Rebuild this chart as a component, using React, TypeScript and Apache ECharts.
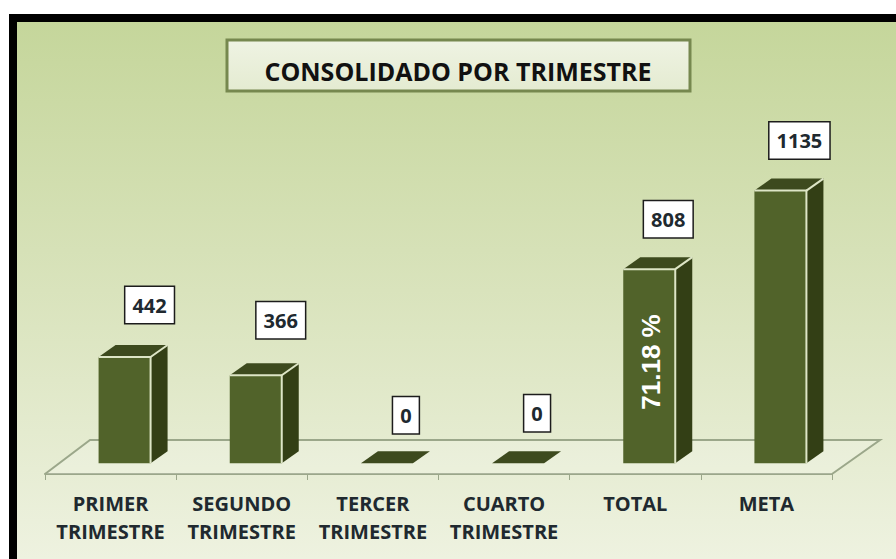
import React, { useEffect, useRef } from "react";
import * as echarts from "echarts";

const categories = [
  "PRIMER\nTRIMESTRE",
  "SEGUNDO\nTRIMESTRE",
  "TERCER\nTRIMESTRE",
  "CUARTO\nTRIMESTRE",
  "TOTAL",
  "META",
];
const values = [442, 366, 0, 0, 808, 1135];
const barNotes = ["", "", "", "", "71.18 %", ""];
const titleText = "CONSOLIDADO POR TRIMESTRE";

// Hand placement of the value boxes relative to each bar, as in the original.
const boxShiftX = [25, 25, 19, 19, 19, 19];
const boxGapY = [32, 35, 28, 30, 30, 30];

const FRONT = "#51632a";
const TOP = "#3d4a1e";
const SIDE = "#333f15";
const EDGE = "#dde5c6";
const AXIS = "#9ba78a";
const LABEL = "#20292f";
const BAR_W = 52;
const BAR_SHIFT = 14;
const DX = 17;
const DY = 12;

function renderBar(params: any, api: any) {
  const i = api.value(0);
  const v = api.value(1);
  const base = api.coord([i, 0]);
  const top = api.coord([i, v]);
  const x0 = base[0] + BAR_SHIFT - BAR_W / 2;
  const x1 = x0 + BAR_W;
  const yT = top[1];
  const yB = base[1];
  const children: any[] = [];
  if (v > 0) {
    children.push({
      type: "polygon",
      shape: { points: [[x1, yT], [x1 + DX, yT - DY], [x1 + DX, yB - DY], [x1, yB]] },
      style: { fill: SIDE },
    });
    children.push({
      type: "rect",
      shape: { x: x0, y: yT, width: BAR_W, height: yB - yT },
      style: { fill: FRONT },
    });
  }
  children.push({
    type: "polygon",
    shape: { points: [[x0, yT], [x0 + DX, yT - DY], [x1 + DX, yT - DY], [x1, yT]] },
    style: { fill: TOP },
  });
  if (v > 0) {
    children.push({
      type: "polyline",
      shape: { points: [[x0, yT], [x1, yT], [x1, yB]] },
      style: { stroke: EDGE, lineWidth: 2, fill: "none" },
    });
    children.push({
      type: "polyline",
      shape: { points: [[x1, yT], [x1 + DX, yT - DY]] },
      style: { stroke: EDGE, lineWidth: 2, fill: "none" },
    });
  }
  const boxCenter = x0 + BAR_W / 2 + boxShiftX[i];
  children.push({
    type: "text",
    z2: 5,
    style: {
      text: String(v),
      x: boxCenter,
      y: yT - boxGapY[i] - 20,
      align: "center",
      verticalAlign: "middle",
      fill: LABEL,
      fontFamily: "'Open Sans'",
      fontWeight: "bold",
      fontSize: 20,
      backgroundColor: "#ffffff",
      borderColor: "#1c1c1c",
      borderWidth: 1.5,
      padding: [8, 7, 8, 7],
    },
  });
  const note = barNotes[i];
  if (note) {
    children.push({
      type: "text",
      z2: 6,
      x: x0 + BAR_W / 2 + 2,
      y: 362,
      rotation: Math.PI / 2,
      style: {
        text: note,
        x: 0,
        y: 0,
        align: "center",
        verticalAlign: "middle",
        fill: "#ffffff",
        fontFamily: "'Liberation Sans'",
        fontWeight: "bold",
        fontSize: 26,
      },
    });
  }
  return { type: "group", children };
}

function renderFloor(params: any) {
  const c = params.coordSys;
  const yF = c.y + c.height;
  const yB = yF - 34;
  const xL = c.x;
  const xR = c.x + c.width;
  return {
    type: "group",
    children: [
      {
        type: "polygon",
        shape: { points: [[xL, yF], [xL + 45, yB], [xR + 48, yB], [xR, yF]] },
        style: { fill: "rgba(255,255,255,0.18)" },
      },
      {
        type: "polyline",
        shape: { points: [[xL, yF], [xL + 45, yB], [xR + 48, yB], [xR, yF]] },
        style: { stroke: AXIS, lineWidth: 2, fill: "none" },
      },
    ],
  };
}

export default function App() {
  const ref = useRef<HTMLDivElement>(null);
  useEffect(() => {
    const chart = echarts.init(ref.current!, undefined, { renderer: "svg" });
    chart.setOption({
      animation: false,
      backgroundColor: "#ffffff",
      title: {
        text: titleText,
        left: 453,
        top: 66,
        textAlign: "center",
        textVerticalAlign: "middle",
        textStyle: {
          color: "#111111",
          fontFamily: "'Open Sans'",
          fontWeight: "bold",
          fontSize: 25,
        },
      },
      graphic: [
        {
          type: "rect",
          z: -3,
          shape: { x: 9, y: 14, width: 887, height: 545 },
          style: { fill: "#000000" },
        },
        {
          type: "rect",
          z: -2,
          shape: { x: 17, y: 22, width: 879, height: 537 },
          style: {
            fill: {
              type: "linear",
              x: 0,
              y: 0,
              x2: 0,
              y2: 1,
              colorStops: [
                { offset: 0, color: "#c5d69b" },
                { offset: 0.5, color: "#d9e3bc" },
                { offset: 1, color: "#eef2e0" },
              ],
            },
          },
        },
        {
          type: "rect",
          z: 1,
          shape: { x: 227, y: 40, width: 463, height: 51 },
          style: {
            fill: {
              type: "linear",
              x: 0,
              y: 0,
              x2: 0,
              y2: 1,
              colorStops: [
                { offset: 0, color: "#eff3e3" },
                { offset: 1, color: "#e4ebd1" },
              ],
            },
            stroke: "#76884f",
            lineWidth: 3,
          },
        },
      ],
      grid: { left: 45, right: 64, top: 175, bottom: 85 },
      xAxis: {
        type: "category",
        data: categories,
        boundaryGap: true,
        axisLine: { show: true, onZero: false, lineStyle: { color: AXIS, width: 2 } },
        axisTick: { show: true, length: 6, lineStyle: { color: AXIS, width: 1 } },
        axisLabel: {
          interval: 0,
          margin: 15,
          color: LABEL,
          fontFamily: "'Open Sans'",
          fontWeight: "bold",
          fontSize: 20,
          lineHeight: 28,
        },
      },
      yAxis: { type: "value", show: false, min: -45, max: 1200, splitLine: { show: false } },
      series: [
        {
          type: "custom",
          z: 1,
          renderItem: renderFloor,
          data: [[0, 0]],
          silent: true,
          clip: false,
        },
        {
          type: "custom",
          z: 3,
          renderItem: renderBar,
          encode: { x: 0, y: 1 },
          data: values.map((v, i) => [i, v]),
          clip: false,
        },
      ],
    });
    return () => chart.dispose();
  }, []);
  return (
    <div
      ref={ref}
      style={{ position: "absolute", left: 0, top: 0, width: 896, height: 559 }}
    />
  );
}
